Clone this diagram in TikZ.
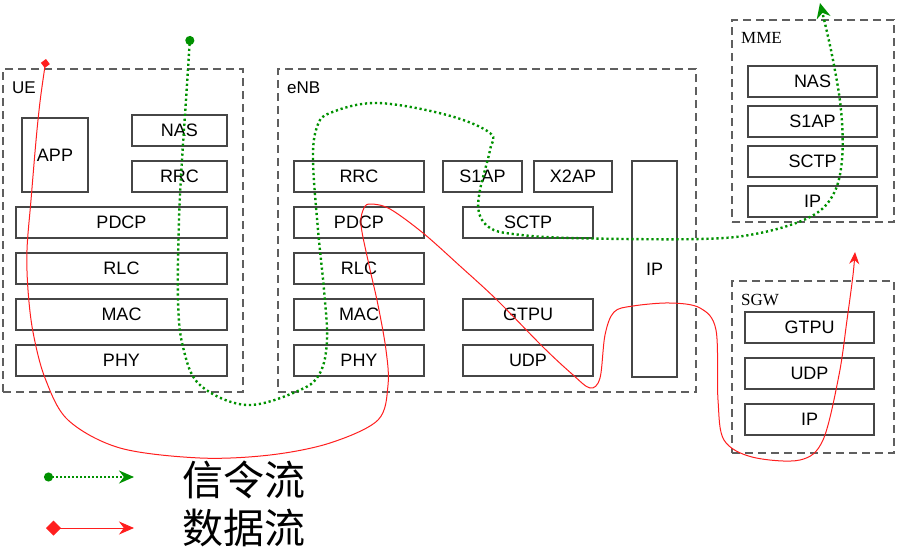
\documentclass[tikz,border=0pt]{standalone}
\usepackage{fontspec}
\setmainfont{Liberation Sans}
\newfontfamily\seriflbl{Liberation Serif}
\newfontfamily\cjkfont{Noto Sans CJK SC}
\usetikzlibrary{arrows.meta}
\definecolor{boxgray}{RGB}{70,70,70}
\definecolor{dashgray}{RGB}{95,95,95}
\definecolor{siggreen}{RGB}{0,145,0}
\definecolor{datared}{RGB}{255,30,30}
\begin{document}
\begin{tikzpicture}[x=1pt,y=-1pt,
  layer/.style={draw=boxgray, line width=1.1pt, inner sep=0pt, minimum height=31pt, font=\fontsize{18}{18}\selectfont},
  group/.style={draw=dashgray, line width=1.2pt, dash pattern=on 8pt off 5pt, inner sep=0pt},
  grplbl/.style={anchor=base west, inner sep=0pt, font=\fontsize{17}{17}\selectfont},
  srvlbl/.style={anchor=base west, inner sep=0pt, font=\seriflbl\fontsize{17}{17}\selectfont},
  sigflow/.style={draw=siggreen, line width=2.4pt, dash pattern=on 2.2pt off 2.8pt},
  dataflow/.style={draw=datared, line width=1pt},
  legtext/.style={inner sep=0pt, font=\cjkfont\fontsize{41}{41}\selectfont}]
\useasboundingbox (0,0) rectangle (898,549);

% UE
\node[group, minimum width=240pt, minimum height=323pt] (ue) at (123,230.5) {};
\node[grplbl] (uelbl) at (12,93) {UE};
\node[layer, minimum width=66pt, minimum height=74pt] (app) at (55,155) {APP};
\node[layer, minimum width=95pt] (uenas) at (179.5,130.5) {NAS};
\node[layer, minimum width=95pt] (uerrc) at (179.5,176.5) {RRC};
\node[layer, minimum width=211pt] (uepdcp) at (121.5,222.5) {PDCP};
\node[layer, minimum width=211pt] (uerlc) at (121.5,268.5) {RLC};
\node[layer, minimum width=211pt] (uemac) at (121.5,314.5) {MAC};
\node[layer, minimum width=211pt] (uephy) at (121.5,360.5) {PHY};

% eNB
\node[group, minimum width=418pt, minimum height=323pt] (enb) at (487,230.5) {};
\node[grplbl] (enblbl) at (287,93) {eNB};
\node[layer, minimum width=130pt] (enbrrc) at (359,176.5) {RRC};
\node[layer, minimum width=79pt] (enbs1ap) at (482.5,176.5) {S1AP};
\node[layer, minimum width=78pt] (enbx2ap) at (573,176.5) {X2AP};
\node[layer, minimum width=45pt, minimum height=216pt] (enbip) at (654.5,269) {IP};
\node[layer, minimum width=130pt] (enbpdcp) at (359,222.5) {PDCP};
\node[layer, minimum width=130pt] (enbsctp) at (528,222.5) {SCTP};
\node[layer, minimum width=130pt] (enbrlc) at (359,268.5) {RLC};
\node[layer, minimum width=130pt] (enbmac) at (359,314.5) {MAC};
\node[layer, minimum width=130pt] (enbgtpu) at (528,314.5) {GTPU};
\node[layer, minimum width=130pt] (enbphy) at (359,360.5) {PHY};
\node[layer, minimum width=130pt] (enbudp) at (528,360.5) {UDP};

% MME
\node[group, minimum width=162pt, minimum height=202pt] (mme) at (813,121) {};
\node[srvlbl] (mmelbl) at (741,43) {MME};
\node[layer, minimum width=129pt] (mmenas) at (812.5,81.5) {NAS};
\node[layer, minimum width=129pt] (mmes1ap) at (812.5,121.5) {S1AP};
\node[layer, minimum width=129pt] (mmesctp) at (812.5,161.5) {SCTP};
\node[layer, minimum width=129pt] (mmeip) at (812.5,201.5) {IP};

% SGW
\node[group, minimum width=162pt, minimum height=172pt] (sgw) at (813,367) {};
\node[srvlbl] (sgwlbl) at (741,305) {SGW};
\node[layer, minimum width=129pt] (sgwgtpu) at (809.5,327.5) {GTPU};
\node[layer, minimum width=129pt] (sgwudp) at (809.5,373.5) {UDP};
\node[layer, minimum width=129pt] (sgwip) at (809.5,419.5) {IP};

% signalling flow
\draw[sigflow, {Circle[length=9pt,width=9pt,sep=-2pt]}-{Stealth[length=15pt,width=14pt]}]
  plot[smooth, tension=0.6] coordinates {
  (190,38) (186,100) (182,160) (179,220) (178,300) (183,347) (200,385) (247,405)
  (300,390) (320,373) (327,340) (324,290) (318,230) (313,160) (317,127) (330,113)
  (377,103) (447,115) (490,133) (490,150) (480,190) (479,213) (490,228) (513,234) (570,238)
  (700,239) (760,233) (810,217) (833,195) (842,160) (841,110) (832,55) (820,3)};

% data flow
\draw[dataflow, {Turned Square[length=9pt,width=9pt]}-{Stealth[length=12pt,width=10pt]}]
  plot[smooth, tension=0.55] coordinates {
  (46,59) (38,120) (31,200) (27,250) (28,290) (33,332) (45,378) (68,420) (120,448)
  (200,458) (270,455) (330,443) (378,420) (388,385) (386,350) (378,305) (369,265)
  (361,225) (364,208) (371,204) (390,209) (423,233) (460,266) (497,300) (543,347)
  (572,374) (590,388) (600,378) (605,335) (614,312) (633,306) (670,303) (700,308)
  (716,330) (718,400) (724,440) (752,457) (800,460) (823,440) (839,375) (847,320)
  (853,275) (855,252)};

% legend
\coordinate (lgs) at (46,477);
\coordinate (lge) at (134,477);
\coordinate (lds) at (46,528);
\coordinate (lde) at (134,528);
\draw[draw=siggreen, line width=2pt, dash pattern=on 2pt off 2pt, {Circle[length=9pt,width=9pt,sep=-2pt]}-{Stealth[length=15pt,width=13pt]}] (lgs) -- (lge);
\draw[draw=datared, line width=1pt, {Turned Square[length=15pt,width=15pt]}-{Stealth[length=15pt,width=13pt]}] (lds) -- (lde);
\node[legtext] (sigtxt) at (244,480) {信令流};
\node[legtext] (datatxt) at (244,528) {数据流};
\end{tikzpicture}
\end{document}
